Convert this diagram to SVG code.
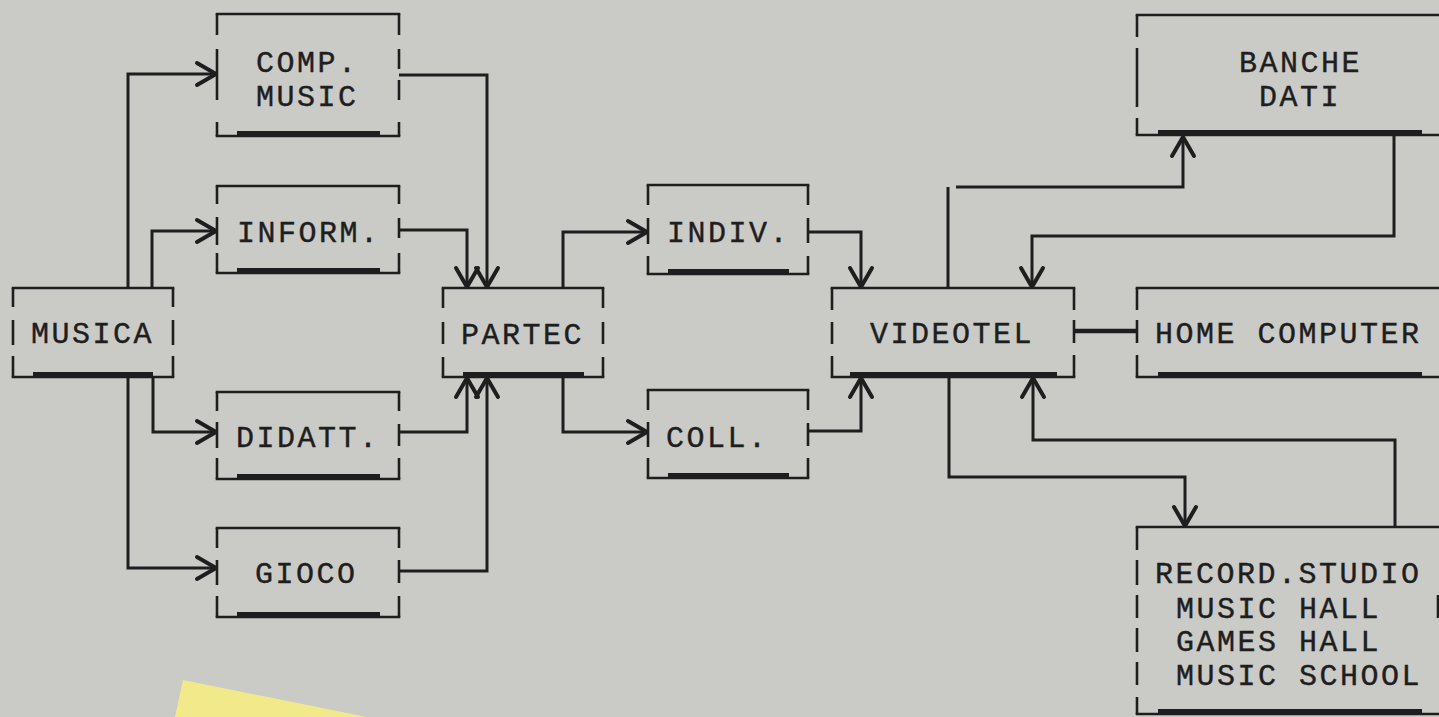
<svg xmlns="http://www.w3.org/2000/svg" width="1439" height="717" viewBox="0 0 1439 717">
  <defs>
    <style>
      .ln{fill:none;stroke:#1e1e1e;stroke-width:2.6;stroke-linecap:square}
      .sd{fill:none;stroke:#1e1e1e;stroke-width:2.6}
      .bar{fill:none;stroke:#1e1e1e;stroke-width:5}
      .cn{fill:none;stroke:#1e1e1e;stroke-width:3;stroke-linejoin:miter}
      .lbl{font-family:"Liberation Mono","DejaVu Sans Mono",monospace;font-size:30px;letter-spacing:2.5px;fill:#1e1e1e;stroke:#1e1e1e;stroke-width:0.4}
    </style>
    <marker id="ah" markerUnits="userSpaceOnUse" markerWidth="30" markerHeight="30" viewBox="-24 -15 30 30" refX="0" refY="0" orient="auto" overflow="visible">
      <path d="M-19,-11 L0,0 L-19,11" fill="none" stroke="#1e1e1e" stroke-width="4" stroke-linejoin="round" stroke-linecap="round"/>
    </marker>
  </defs>

  <rect x="0" y="0" width="1439" height="717" fill="#cacac6"/>
  <polygon points="183,680 367,717 175,717" fill="#f2ea8a"/>

  <g id="connectors">
    <path class="cn" d="M128,288 V74 H216" marker-end="url(#ah)"/>
    <path class="cn" d="M152,288 V231 H216" marker-end="url(#ah)"/>
    <path class="cn" d="M153,377 V432 H216" marker-end="url(#ah)"/>
    <path class="cn" d="M128,377 V568 H216" marker-end="url(#ah)"/>
    <path class="cn" d="M399,75 H487 V287" marker-end="url(#ah)"/>
    <path class="cn" d="M399,230 H467 V287" marker-end="url(#ah)"/>
    <path class="cn" d="M399,432 H467 V378" marker-end="url(#ah)"/>
    <path class="cn" d="M399,571 H487 V378" marker-end="url(#ah)"/>
    <path class="cn" d="M563,288 V232 H647" marker-end="url(#ah)"/>
    <path class="cn" d="M563,377 V432 H647" marker-end="url(#ah)"/>
    <path class="cn" d="M808,232 H861 V287" marker-end="url(#ah)"/>
    <path class="cn" d="M808,431 H861 V378" marker-end="url(#ah)"/>
    <path class="cn" d="M948,288 V187"/>
    <path class="cn" d="M956,187 H1183 V137" marker-end="url(#ah)"/>
    <path class="cn" d="M1394,135 V236 H1032 V287" marker-end="url(#ah)"/>
    <path class="cn" d="M1074,331 H1137" style="stroke-width:4.5"/>
    <path class="cn" d="M949,377 V477 H1185 V526" marker-end="url(#ah)"/>
    <path class="cn" d="M1395,527 V440 H1033 V378" marker-end="url(#ah)"/>
  </g>

  <g id="musica">
    <path class="ln" d="M13,288 H173 M13,377 H173"/>
    <path class="sd" d="M13,288 V307 M13,320 V345 M13,356 V377 M173,288 V307 M173,320 V345 M173,356 V377"/>
    <path class="bar" d="M33,374.5 H153"/>
    <text class="lbl" x="31" y="343">MUSICA</text>
  </g>

  <g id="comp-music">
    <path class="ln" d="M217,14 H399 M217,136 H399"/>
    <path class="sd" d="M217,14 V35 M217,49 V100 M217,122 V136 M399,14 V35 M399,49 V69 M399,80 V100 M399,122 V136"/>
    <path class="bar" d="M237,133.5 H380"/>
    <text class="lbl" x="256" y="72">COMP.</text>
    <text class="lbl" x="256" y="106">MUSIC</text>
  </g>

  <g id="inform">
    <path class="ln" d="M217,186 H399 M217,273 H399"/>
    <path class="sd" d="M217,186 V204 M217,217 V245 M217,253 V273 M399,186 V204 M399,218 V238 M399,253 V273"/>
    <path class="bar" d="M237,270.5 H380"/>
    <text class="lbl" x="237" y="242">INFORM.</text>
  </g>

  <g id="didatt">
    <path class="ln" d="M217,392 H399 M217,479 H399"/>
    <path class="sd" d="M217,392 V411 M217,422 V448 M217,458 V479 M399,392 V411 M399,424 V446 M399,458 V479"/>
    <path class="bar" d="M237,476.5 H380"/>
    <text class="lbl" x="236" y="447">DIDATT.</text>
  </g>

  <g id="gioco">
    <path class="ln" d="M217,528 H399 M217,617 H399"/>
    <path class="sd" d="M217,528 V548 M217,560 V585 M217,596 V617 M399,528 V548 M399,560 V583 M399,596 V617"/>
    <path class="bar" d="M237,614.5 H380"/>
    <text class="lbl" x="255" y="583">GIOCO</text>
  </g>

  <g id="partec">
    <path class="ln" d="M443,288 H603 M443,377 H603"/>
    <path class="sd" d="M443,288 V308 M443,322 V344 M443,357 V377 M603,288 V308 M603,322 V344 M603,357 V377"/>
    <path class="bar" d="M463,374.5 H584"/>
    <text class="lbl" x="461" y="344">PARTEC</text>
  </g>

  <g id="indiv">
    <path class="ln" d="M648,185 H808 M648,274 H808"/>
    <path class="sd" d="M648,185 V205 M648,218 V244 M648,256 V274 M808,185 V205 M808,218 V243 M808,256 V274"/>
    <path class="bar" d="M668,271.5 H789"/>
    <text class="lbl" x="667" y="242">INDIV.</text>
  </g>

  <g id="coll">
    <path class="ln" d="M648,390 H808 M648,478 H808"/>
    <path class="sd" d="M648,390 V410 M648,422 V447 M648,458 V478 M808,390 V410 M808,423 V446 M808,458 V478"/>
    <path class="bar" d="M668,475.5 H789"/>
    <text class="lbl" x="666" y="447">COLL.</text>
  </g>

  <g id="videotel">
    <path class="ln" d="M832,288 H1074 M832,377 H1074"/>
    <path class="sd" d="M832,288 V310 M832,322 V344 M832,356 V377 M1074,288 V310 M1074,320 V343 M1074,355 V377"/>
    <path class="bar" d="M850,374.5 H1057"/>
    <text class="lbl" x="870" y="343">VIDEOTEL</text>
  </g>

  <g id="banche-dati">
    <path class="ln" d="M1137,15 H1445 M1137,135 H1445"/>
    <path class="sd" d="M1137,15 V37 M1137,48 V107 M1137,118 V135"/>
    <path class="bar" d="M1158,132.5 H1422"/>
    <text class="lbl" x="1239" y="72">BANCHE</text>
    <text class="lbl" x="1259" y="106">DATI</text>
  </g>

  <g id="home-computer">
    <path class="ln" d="M1137,288 H1445 M1137,377 H1445"/>
    <path class="sd" d="M1137,288 V310 M1137,320 V343 M1137,355 V377"/>
    <path class="bar" d="M1158,374.5 H1422"/>
    <text class="lbl" x="1155" y="343">HOME COMPUTER</text>
  </g>

  <g id="record-studio">
    <path class="ln" d="M1137,527 H1445 M1137,714 H1445"/>
    <path class="sd" d="M1137,527 V550 M1137,560 V585 M1137,595 V618 M1137,628 V652 M1137,662 V685 M1137,697 V714 M1438,595 V618"/>
    <path class="bar" d="M1158,711.5 H1422"/>
    <text class="lbl" x="1155" y="583">RECORD.STUDIO</text>
    <text class="lbl" x="1176" y="618">MUSIC HALL</text>
    <text class="lbl" x="1176" y="651">GAMES HALL</text>
    <text class="lbl" x="1176" y="685">MUSIC SCHOOL</text>
  </g>
</svg>
